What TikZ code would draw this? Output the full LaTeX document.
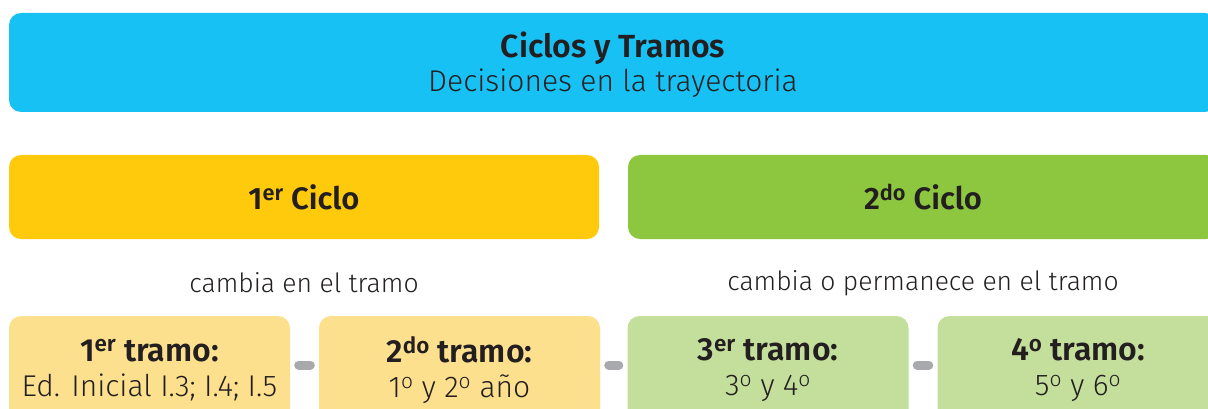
\documentclass[tikz,border=0pt]{standalone}
\usepackage{fontspec}
\setmainfont{Fira Sans}[UprightFont=* Light, BoldFont=* SemiBold]
\definecolor{cielo}{HTML}{18C1F4}
\definecolor{amarillo}{HTML}{FECA0B}
\definecolor{verde}{HTML}{8DC63F}
\definecolor{amarilloclaro}{HTML}{FDE08E}
\definecolor{verdeclaro}{HTML}{C4DF9B}
\definecolor{gris}{HTML}{A7A9AC}
\definecolor{tinta}{HTML}{231F20}
\tikzset{
  caja/.style={rounded corners=12pt, inner sep=0pt, text=tinta, align=center},
  ciclo/.style={caja, minimum width=590pt, minimum height=84pt, font=\fontsize{31}{34}\selectfont\bfseries},
  tramo/.style={caja, minimum width=281pt, minimum height=108pt, font=\fontsize{30}{35}\selectfont},
  nota/.style={text=tinta, font=\fontsize{26.5}{30}\selectfont},
  enlace/.style={draw=gris, line width=9pt, line cap=round, shorten <=8.5pt, shorten >=8.5pt}
}
\begin{document}
\begin{tikzpicture}[x=1pt,y=-1pt]
\useasboundingbox (0,0) rectangle (1208,409);
\node[caja, fill=cielo, minimum width=1208pt, minimum height=99pt] (titulo) at (613,62.5) {};
\node[nota, anchor=base, inner sep=0pt, font=\fontsize{32}{34}\selectfont\bfseries] (lema) at (613,57.7) {Ciclos y Tramos};
\node[nota, anchor=base, inner sep=0pt, font=\fontsize{30}{34}\selectfont] (sublema) at (613,91.7) {Decisiones en la trayectoria};
\node[ciclo, fill=amarillo] (ciclo1) at (304,197) {1\textsuperscript{er} Ciclo};
\node[ciclo, fill=verde] (ciclo2) at (923,197) {2\textsuperscript{do} Ciclo};
\node[nota] (nota1) at (304,283) {cambia en el tramo};
\node[nota] (nota2) at (923,283) {cambia o permanece en el tramo};
\node[tramo, fill=amarilloclaro] (tramo1) at (149.5,370) {{\fontsize{32}{35}\selectfont\bfseries 1\textsuperscript{er} tramo:}\\Ed. Inicial I.3; I.4; I.5};
\node[tramo, fill=amarilloclaro] (tramo2) at (459.5,370) {{\fontsize{32}{35}\selectfont\bfseries 2\textsuperscript{do} tramo:}\\1\textsuperscript{o} y 2\textsuperscript{o} año};
\node[tramo, fill=verdeclaro] (tramo3) at (768,370) {{\fontsize{32}{35}\selectfont\bfseries 3\textsuperscript{er} tramo:}\\3\textsuperscript{o} y 4\textsuperscript{o}};
\node[tramo, fill=verdeclaro] (tramo4) at (1078,370) {{\fontsize{32}{35}\selectfont\bfseries 4\textsuperscript{o} tramo:}\\5\textsuperscript{o} y 6\textsuperscript{o}};
\draw[enlace] ([yshift=5pt]tramo1.east) -- ([yshift=5pt]tramo2.west);
\draw[enlace] ([yshift=5pt]tramo2.east) -- ([yshift=5pt]tramo3.west);
\draw[enlace] ([yshift=5pt]tramo3.east) -- ([yshift=5pt]tramo4.west);
\end{tikzpicture}
\end{document}
